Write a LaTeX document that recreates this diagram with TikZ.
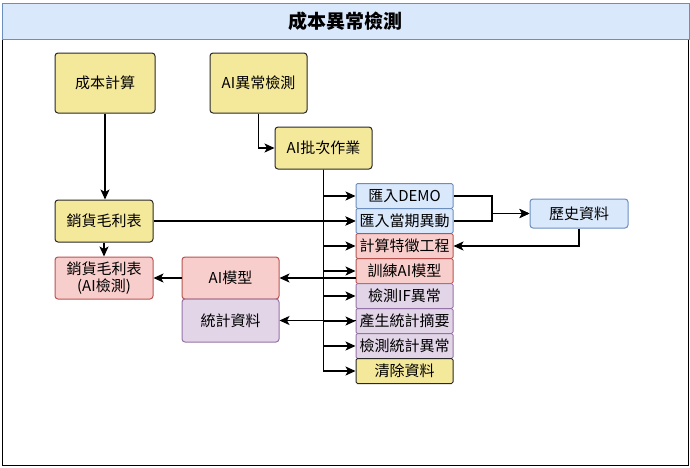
\documentclass[tikz,border=0pt]{standalone}
\usepackage{fontspec}
\setmainfont{Noto Sans CJK TC}
\usetikzlibrary{arrows.meta,positioning}
\definecolor{ylw}{RGB}{244,232,155}
\definecolor{ylwd}{RGB}{40,40,40}
\definecolor{bluf}{RGB}{218,232,252}
\definecolor{blud}{RGB}{108,142,191}
\definecolor{redf}{RGB}{248,206,204}
\definecolor{redd}{RGB}{184,84,80}
\definecolor{purf}{RGB}{225,213,231}
\definecolor{purd}{RGB}{150,115,166}
\tikzset{
  box/.style={rounded corners=3pt, line width=1pt, align=center, inner sep=0pt, font=\fontsize{15}{17.5}\selectfont},
  ybox/.style={box, draw=ylwd, fill=ylw},
  bbox/.style={box, draw=blud, fill=bluf},
  rbox/.style={box, draw=redd, fill=redf},
  pbox/.style={box, draw=purd, fill=purf},
  cell/.style={minimum width=97pt, minimum height=25pt, rounded corners=1.5pt},
  arr/.style={line width=1.1pt, -{Stealth[length=10pt,width=9pt,inset=2.5pt]}},
}
\begin{document}
\begin{tikzpicture}[x=1pt,y=-1pt]
\useasboundingbox (0,0) rectangle (690,467);
\fill[white] (0,0) rectangle (690,467);
% frame
\draw[line width=1pt, black] (2,39) rectangle (688,465);
\draw[line width=1pt, draw=blud, fill=bluf] (2,3) rectangle (689,39);
\node[font=\fontsize{19}{22}\selectfont\bfseries] (title) at (345,21) {成本異常檢測};
% nodes
\node[ybox, minimum width=100pt, minimum height=60pt] (cbjs) at (105,83) {成本計算};
\node[ybox, minimum width=97pt, minimum height=60pt] (aiyc) at (258.5,83) {AI異常檢測};
\node[ybox, minimum width=97pt, minimum height=42pt] (aipc) at (323.5,148) {AI批次作業};
\node[ybox, minimum width=98pt, minimum height=42pt] (xhml) at (104,221) {銷貨毛利表};
\node[rbox, minimum width=98pt, minimum height=42pt] (xhai) at (104,278) {銷貨毛利表\\(AI檢測)};
\node[rbox, minimum width=97pt, minimum height=42pt] (aimx) at (230.5,278) {AI模型};
\node[pbox, minimum width=97pt, minimum height=43pt] (tjzl) at (230.5,320.5) {統計資料};
\node[bbox, cell] (r1) at (404.5,196) {匯入DEMO};
\node[bbox, cell] (r2) at (404.5,221) {匯入當期異動};
\node[rbox, cell] (r3) at (404.5,246) {計算特徵工程};
\node[rbox, cell] (r4) at (404.5,271) {訓練AI模型};
\node[pbox, cell] (r5) at (404.5,296) {檢測IF異常};
\node[pbox, cell] (r6) at (404.5,321) {產生統計摘要};
\node[pbox, cell] (r7) at (404.5,346) {檢測統計異常};
\node[ybox, cell] (r8) at (404.5,371) {清除資料};
\node[bbox, minimum width=98pt, minimum height=29pt] (lszl) at (579,213.5) {歷史資料};
\coordinate (mg1) at (492,196);
\coordinate (mg2) at (492,221);
% connectors
\draw[arr] (cbjs.south) -- (cbjs.south |- xhml.north);
\draw[arr] (aiyc.south) |- (aipc.west);
\foreach \r in {r1,r2,r3,r4,r5,r6,r7,r8}{
  \draw[arr] (aipc.south) |- (\r.west);
}
\draw[arr] (xhml.east) -- (xhml.east -| r2.west);
\draw[arr] (xhml.south) -- (xhml.south |- xhai.north);
\draw[arr] (aimx.west) -- (aimx.west -| xhai.east);
\draw[arr] (aimx.east -| r4.west) -- (aimx.east);
\draw[arr] (tjzl.east -| r6.west) -- (tjzl.east);
\draw[arr] (r1.east) -- (mg1) |- (lszl.west);
\draw[arr] (r2.east) -- (mg2) |- (lszl.west);
\draw[arr] (lszl.south) |- (r3.east);
\end{tikzpicture}
\end{document}
